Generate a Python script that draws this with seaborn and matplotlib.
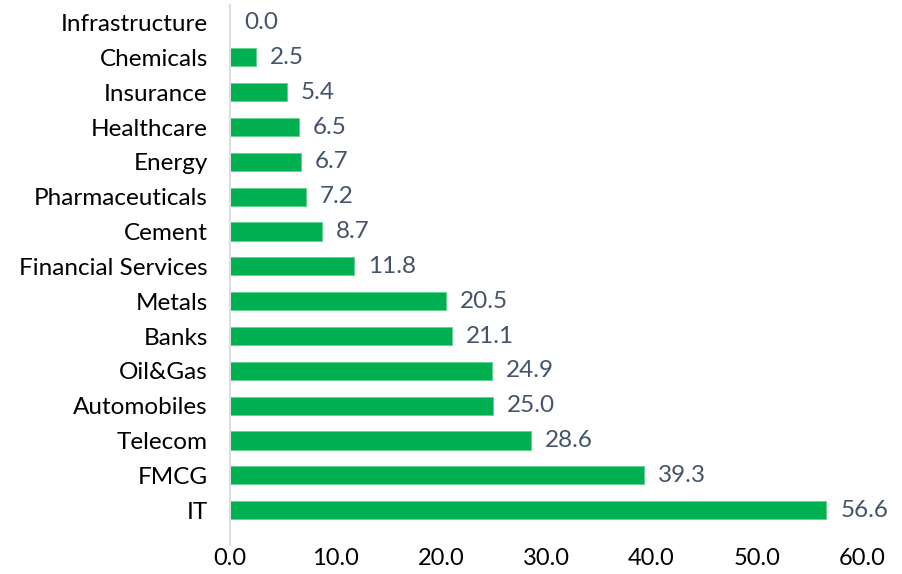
import pandas as pd
import matplotlib
matplotlib.use("Agg")
import matplotlib.pyplot as plt
import seaborn as sns

# ---- data ----
sectors = ["Infrastructure", "Chemicals", "Insurance", "Healthcare", "Energy",
           "Pharmaceuticals", "Cement", "Financial Services", "Metals", "Banks",
           "Oil&Gas", "Automobiles", "Telecom", "FMCG", "IT"]
values = [0.0, 2.5, 5.4, 6.5, 6.7, 7.2, 8.7, 11.8, 20.5, 21.1,
          24.9, 25.0, 28.6, 39.3, 56.6]
x_ticks = [0, 10, 20, 30, 40, 50, 60]

df = pd.DataFrame({"Sector": sectors, "Value": values})

sns.set_theme(style="white")
plt.rcParams["font.family"] = ["Lato", "DejaVu Sans"]

fig = plt.figure(figsize=(9.02, 5.74), dpi=100)
ax = fig.add_axes([0.255, 0.0505, 0.701, 0.9405])

sns.barplot(data=df, x="Value", y="Sector", color="#00B050", width=0.52,
            saturation=1, ax=ax, edgecolor="#5FD08A", linewidth=0.6)

ax.bar_label(ax.containers[0], fmt="%.1f", padding=10, fontsize=17.5,
             color="#44546A")

ax.set_xlim(0, 60)
ax.set_ylim(15, -0.5)
ax.set_xticks(x_ticks)
ax.set_xticklabels([f"{t:.1f}" for t in x_ticks])
ax.set_xlabel("")
ax.set_ylabel("")
ax.tick_params(axis="y", length=0, pad=16, labelsize=17.5, labelcolor="black")
ax.tick_params(axis="x", length=0, pad=2, labelsize=17, labelcolor="black")

for s in ["top", "right", "bottom"]:
    ax.spines[s].set_visible(False)
ax.spines["left"].set_color("#D9DEE8")
ax.spines["left"].set_linewidth(1.5)

fig.savefig("out.png", dpi=100)
